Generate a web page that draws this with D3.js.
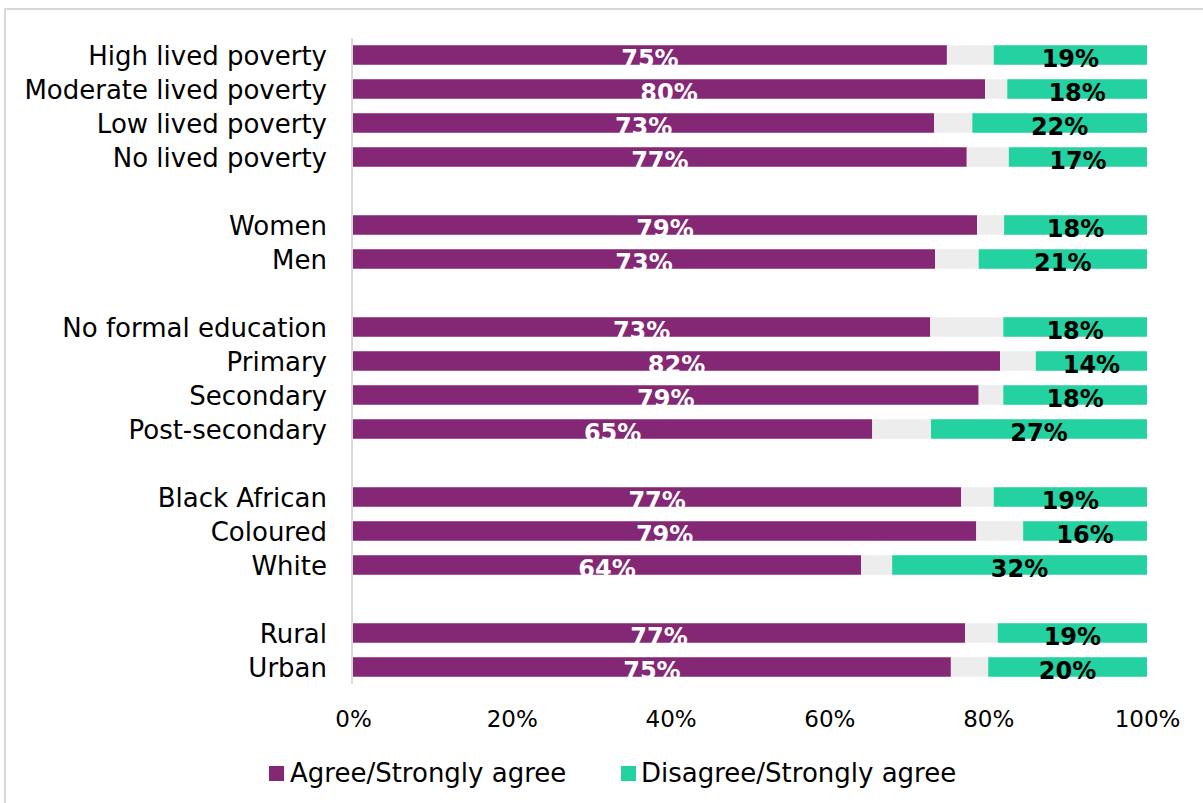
<!DOCTYPE html>
<html>
<head>
<meta charset="utf-8">
<script src="https://cdn.jsdelivr.net/npm/d3@7"></script>
<style>
  html, body { margin: 0; padding: 0; background: #fff; }
  svg { display: block; font-family: "DejaVu Sans", sans-serif; }
</style>
</head>
<body>
<svg id="chart" width="1203" height="803"></svg>
<script>
// Categories in display order; "" marks a blank spacer row between groups
const categories = [
  "High lived poverty", "Moderate lived poverty", "Low lived poverty", "No lived poverty", "",
  "Women", "Men", "",
  "No formal education", "Primary", "Secondary", "Post-secondary", "",
  "Black African", "Coloured", "White", "",
  "Rural", "Urban"
];
// Agree/Strongly agree (%)
const agree = [74.8, 79.6, 73.2, 77.3, null, 78.6, 73.3, null, 72.7, 81.5, 78.8, 65.4, null, 76.6, 78.5, 64.0, null, 77.1, 75.3];
// Disagree/Strongly agree (%)
const disagree = [19.3, 17.6, 22.0, 17.4, null, 18.0, 21.2, null, 18.1, 14.0, 18.1, 27.2, null, 19.3, 15.6, 32.1, null, 18.8, 20.0];
const seriesNames = ["Agree/Strongly agree", "Disagree/Strongly agree"];
const tickValues = [0, 20, 40, 60, 80, 100];

const colors = { agree: "#842876", neutral: "#EDEDED", disagree: "#23D2A0" };

const svg = d3.select("#chart");

// outer border
svg.append("rect")
  .attr("x", 5).attr("y", 9).attr("width", 1250).attr("height", 850)
  .attr("fill", "none").attr("stroke", "#d9d9d9").attr("stroke-width", 2);

const x = d3.scaleLinear().domain([0, 100]).range([353, 1147]);
const keys = categories.map((c, i) => i);
const y = d3.scaleBand().domain(keys).range([38, 684]).paddingInner(0.426).paddingOuter(0.213);

const rows = categories.map((c, i) => ({ i, c, a: agree[i], d: disagree[i] })).filter(r => r.c !== "");

const g = svg.append("g");

// agree bars
g.selectAll(".agree").data(rows).join("rect")
  .attr("x", x(0)).attr("y", r => y(r.i))
  .attr("width", r => x(r.a) - x(0)).attr("height", y.bandwidth())
  .attr("fill", colors.agree);
// neutral (remainder)
g.selectAll(".neutral").data(rows).join("rect")
  .attr("x", r => x(r.a)).attr("y", r => y(r.i))
  .attr("width", r => x(100 - r.d) - x(r.a)).attr("height", y.bandwidth())
  .attr("fill", colors.neutral);
// disagree
g.selectAll(".disagree").data(rows).join("rect")
  .attr("x", r => x(100 - r.d)).attr("y", r => y(r.i))
  .attr("width", r => x(100) - x(100 - r.d)).attr("height", y.bandwidth())
  .attr("fill", colors.disagree);

// axis line
svg.append("line")
  .attr("x1", 352).attr("x2", 352).attr("y1", 38).attr("y2", 684)
  .attr("stroke", "#d9d9d9").attr("stroke-width", 2);

// category labels
svg.selectAll(".cat").data(rows).join("text")
  .attr("x", 327).attr("y", r => y(r.i) + y.bandwidth() / 2 + 9.5)
  .attr("text-anchor", "end").attr("font-size", 26).attr("fill", "#000")
  .text(r => r.c);

// value labels
svg.selectAll(".alab").data(rows).join("text")
  .attr("x", r => (x(0) + x(r.a)) / 2)
  .attr("y", r => y(r.i) + y.bandwidth() / 2 + 11.5)
  .attr("text-anchor", "middle").attr("font-size", 24).attr("font-weight", "bold")
  .attr("fill", "#fff")
  .text(r => Math.round(r.a) + "%");
svg.selectAll(".dlab").data(rows).join("text")
  .attr("x", r => (x(100 - r.d) + x(100)) / 2)
  .attr("y", r => y(r.i) + y.bandwidth() / 2 + 11.5)
  .attr("text-anchor", "middle").attr("font-size", 24).attr("font-weight", "bold")
  .attr("fill", "#000")
  .text(r => Math.round(r.d) + "%");

// x axis tick labels
const xAxis = d3.axisBottom(x).tickValues(tickValues).tickFormat(d => d + "%").tickSize(0).tickPadding(0);
const ax = svg.append("g").attr("transform", "translate(0,706)").call(xAxis);
ax.select(".domain").remove();
ax.selectAll("text").attr("font-size", 23).attr("font-family", "DejaVu Sans, sans-serif")
  .attr("fill", "#000").attr("dy", "0.9em");

// legend
const legend = [
  { name: seriesNames[0], color: colors.agree, x: 269, tx: 290 },
  { name: seriesNames[1], color: colors.disagree, x: 621, tx: 641 }
];
const lg = svg.selectAll(".leg").data(legend).join("g");
lg.append("rect").attr("x", d => d.x).attr("y", 766).attr("width", 15).attr("height", 15).attr("fill", d => d.color);
lg.append("text").attr("x", d => d.tx).attr("y", 782).attr("font-size", 26).attr("fill", "#000").text(d => d.name);
</script>
</body>
</html>
